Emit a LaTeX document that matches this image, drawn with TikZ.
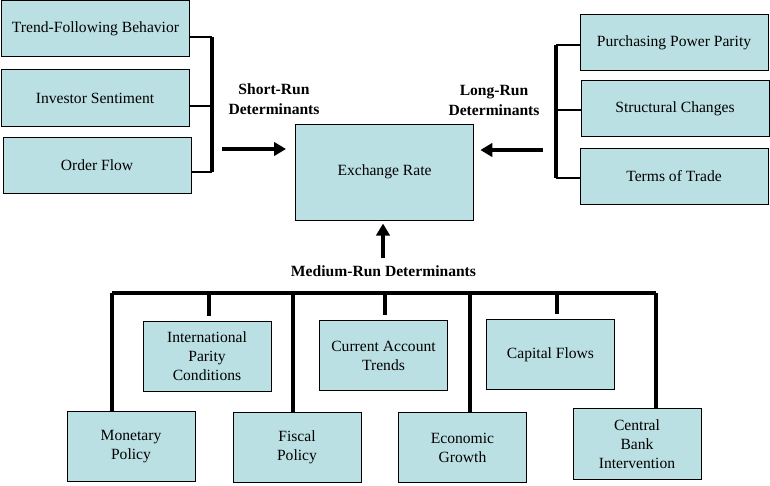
\documentclass[tikz,border=0pt]{standalone}
\usepackage{fontspec}
\setmainfont{Liberation Serif}
\usetikzlibrary{arrows.meta}
\definecolor{boxblue}{RGB}{187,224,227}

\tikzset{
	det/.style={draw=black, line width=0.75pt, fill=boxblue, align=center, inner sep=0pt,
		font=\fontsize{11.7}{14.25}\selectfont},
	side/.style={det, minimum width=141pt, minimum height=42pt},
	low/.style={det, minimum width=96pt, minimum height=53pt},
	lbl/.style={align=center, font=\fontsize{11.7}{15}\selectfont\bfseries},
	spine/.style={line width=3pt},
	stub/.style={line width=1.6pt},
	drop/.style={line width=2.3pt},
	push/.style={line width=3pt, -{Triangle[length=9pt,width=10pt]}}
}

\begin{document}
\begin{tikzpicture}[x=0.75pt, y=-0.75pt]
	\useasboundingbox (0,0) rectangle (770,485);
	%\draw[step=50, color=gray] (0,0) grid (770,485);
	\node[det, minimum width=134pt, minimum height=72pt] (er) at (384.5,172) {Exchange Rate};
	% short run
	\node[side] (tfb) at (95.5,28.5) {Trend-Following Behavior};
	\node[side] (inv) at (95,98) {Investor Sentiment};
	\node[side] (ord) at (97,165.5) {Order Flow};
	\coordinate (sl1) at (212,37);
	\coordinate (sl2) at (212,106);
	\coordinate (sl3) at (212,172);
	\draw[stub] (sl1 -| tfb.east) -- (sl1);
	\draw[stub] (sl2 -| inv.east) -- (sl2);
	\draw[stub] (sl3 -| ord.east) -- (sl3);
	\draw[spine] (sl1) -- (sl3);
	\node[lbl] (srlbl) at (274,99) {Short-Run\\Determinants};
	\coordinate (sa) at (222,149);
	\draw[push, shorten >=6.5pt] (sa) -- (sa -| er.west);
	% long run
	\node[side] (ppp) at (674,43) {Purchasing Power Parity};
	\node[side] (sc) at (675,108.5) {Structural Changes};
	\node[side] (tot) at (674,176) {Terms of Trade};
	\coordinate (lr1) at (556,45);
	\coordinate (lr2) at (556,110);
	\coordinate (lr3) at (556,178);
	\draw[stub] (lr1) -- (lr1 -| ppp.west);
	\draw[stub] (lr2) -- (lr2 -| sc.west);
	\draw[stub] (lr3) -- (lr3 -| tot.west);
	\draw[spine] (lr1) -- (lr3);
	\node[lbl] (lrlbl) at (494,100) {Long-Run\\Determinants};
	\coordinate (la) at (543,150);
	\draw[push, shorten >=4.5pt] (la) -- (la -| er.east);
	% medium run
	\node[low] (ipc) at (207,356.5) {International\\Parity\\Conditions};
	\node[low] (cat) at (383.5,355.5) {Current Account\\Trends};
	\node[low] (cf) at (550.5,354.5) {Capital Flows};
	\node[low] (mp) at (131,446.5) {Monetary\\Policy};
	\node[low] (fp) at (297,447.5) {Fiscal\\Policy};
	\node[low] (eg) at (462.5,447.5) {Economic\\Growth};
	\node[low] (cbi) at (637,444) {Central\\Bank\\Intervention};
	\node[lbl] (mrlbl) at (383.5,271) {Medium-Run Determinants};
	\coordinate (ma) at (383,258);
	\draw[push, shorten >=2.3pt] (ma) -- (ma |- er.south);
	\coordinate (bm) at (112,293);
	\coordinate (bi) at (209,293);
	\coordinate (bf) at (293,293);
	\coordinate (bc) at (385,293);
	\coordinate (be) at (470,293);
	\coordinate (bk) at (557,293);
	\coordinate (bb) at (656,293);
	\draw[spine] (bm) -- (bb);
	\draw[drop] (bm) -- (bm |- mp.north);
	\draw[drop] (bf) -- (bf |- fp.north);
	\draw[drop] (be) -- (be |- eg.north);
	\draw[drop] (bb) -- (bb |- cbi.north);
	\draw[drop, shorten >=3.5pt] (bi) -- (bi |- ipc.north);
	\draw[drop, shorten >=3.5pt] (bc) -- (bc |- cat.north);
	\draw[drop, shorten >=3.5pt] (bk) -- (bk |- cf.north);
\end{tikzpicture}
\end{document}
